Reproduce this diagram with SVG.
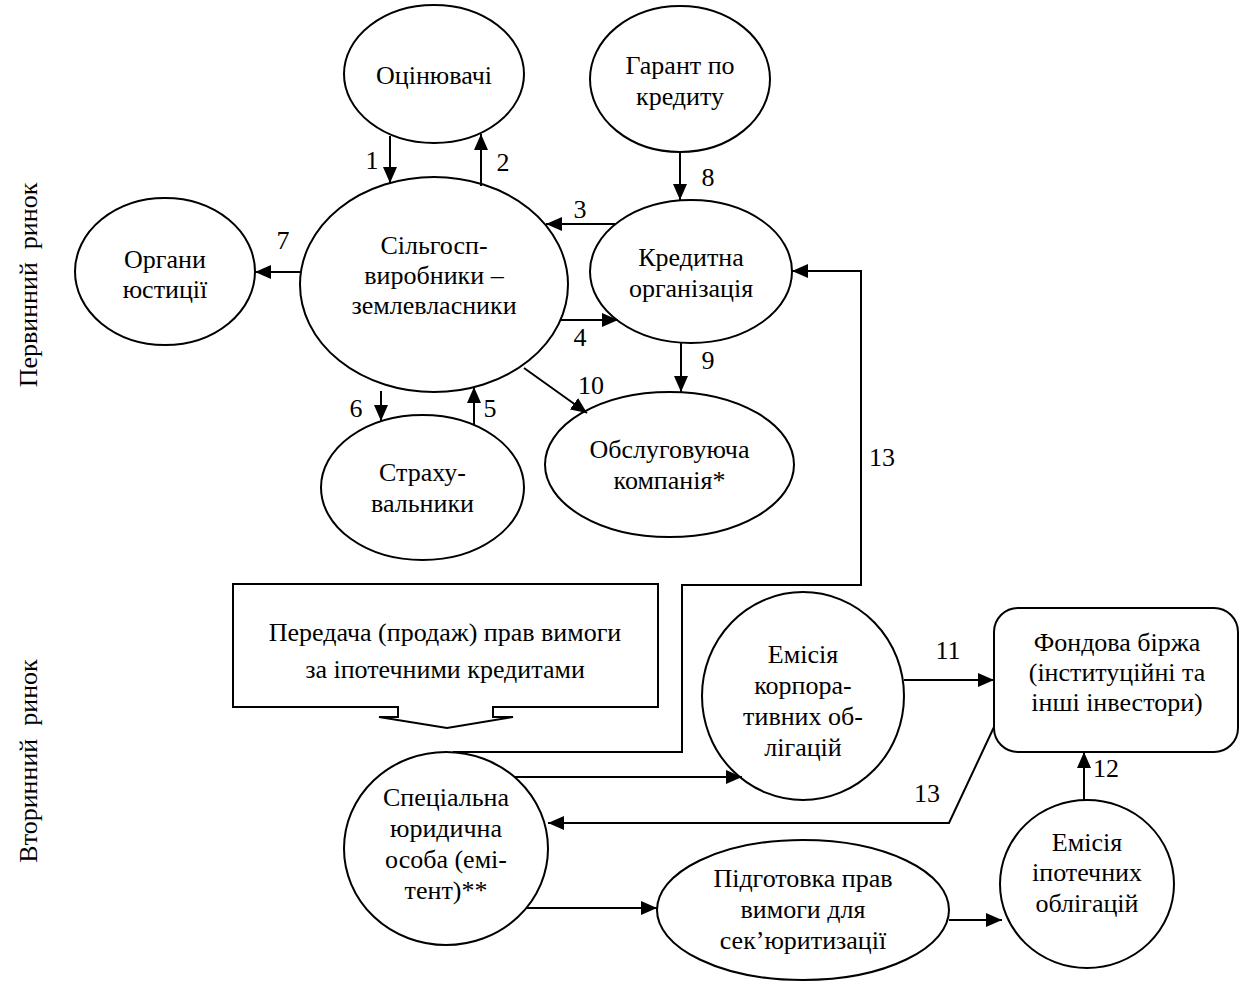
<svg xmlns="http://www.w3.org/2000/svg" width="1241" height="985" viewBox="0 0 1241 985">
<style>
.n{fill:#fff;stroke:#000;stroke-width:2}
text{font-family:"Liberation Serif","Times New Roman",serif;font-size:26px;fill:#000;text-anchor:middle}
.c{fill:none;stroke:#000;stroke-width:2;marker-end:url(#ah)}
.cl{fill:none;stroke:#000;stroke-width:2}
.v{white-space:pre}
</style>
<defs>
<marker id="ah" markerUnits="userSpaceOnUse" markerWidth="16" markerHeight="14" refX="16" refY="7" orient="auto">
<path d="M0,0 L16,7 L0,14 z" fill="#000"/>
</marker>
</defs>
<rect width="1241" height="985" fill="#fff"/>
<g id="labels-side">
<text class="v" transform="translate(37,285) rotate(-90)">Первинний  ринок</text>
<text class="v" transform="translate(37,761) rotate(-90)">Вторинний  ринок</text>
</g>
<g id="ocin"><ellipse class="n" cx="434" cy="74" rx="90" ry="69"/><text x="434" y="84">Оцінювачі</text></g>
<g id="garant"><ellipse class="n" cx="680" cy="79" rx="90" ry="73"/><text x="680" y="74">Гарант по</text><text x="680" y="105">кредиту</text></g>
<g id="silgosp"><ellipse class="n" cx="434" cy="284.5" rx="134" ry="107.5"/><text x="434" y="254">Сільгосп-</text><text x="434" y="284">виробники –</text><text x="434" y="314">землевласники</text></g>
<g id="kredyt"><ellipse class="n" cx="691" cy="271.5" rx="101" ry="71.5"/><text x="691" y="266">Кредитна</text><text x="691" y="297">організація</text></g>
<g id="organy"><ellipse class="n" cx="165" cy="271.5" rx="90" ry="73.5"/><text x="165" y="268">Органи</text><text x="165" y="298">юстиції</text></g>
<g id="strakh"><ellipse class="n" cx="422.5" cy="487.5" rx="101.5" ry="72.5"/><text x="422.5" y="481">Страху-</text><text x="422.5" y="512">вальники</text></g>
<g id="obsl"><ellipse class="n" cx="669.5" cy="464.5" rx="124.5" ry="72.5"/><text x="669.5" y="458">Обслуговуюча</text><text x="669.5" y="489">компанія*</text></g>
<g id="peredacha"><path class="n" d="M233,584 L658,584 L658,707 L493,707 L493,717 L513,717 L447,728 L379,717 L398,717 L398,707 L233,707 Z"/><text x="445" y="641">Передача (продаж) прав вимоги</text><text x="445" y="678">за іпотечними кредитами</text></g>
<g id="emkorp"><ellipse class="n" cx="803" cy="696" rx="101" ry="104"/><text x="803" y="663">Емісія</text><text x="803" y="694">корпора-</text><text x="803" y="725">тивних об-</text><text x="803" y="756">лігацій</text></g>
<g id="fond"><rect class="n" x="994" y="608" width="244" height="144" rx="24"/><text x="1117" y="651">Фондова біржа</text><text x="1117" y="681">(інституційні та</text><text x="1117" y="711">інші інвестори)</text></g>
<g id="spec"><ellipse class="n" cx="446" cy="848.5" rx="102" ry="96.5"/><text x="446" y="806">Спеціальна</text><text x="446" y="837">юридична</text><text x="446" y="868">особа (емі-</text><text x="446" y="899">тент)**</text></g>
<g id="pidg"><ellipse class="n" cx="803" cy="910" rx="146" ry="70"/><text x="803" y="887">Підготовка прав</text><text x="803" y="918">вимоги для</text><text x="803" y="949">сек’юритизації</text></g>
<g id="emipot"><ellipse class="n" cx="1087" cy="884" rx="87" ry="84"/><text x="1087" y="851">Емісія</text><text x="1087" y="881">іпотечних</text><text x="1087" y="912">облігацій</text></g>
<g id="connectors">
<path class="c" d="M390,136 L390,183"/>
<path class="c" d="M481,186 L481,134"/>
<path class="c" d="M680,152 L680,200"/>
<path class="c" d="M615,224 L546,224"/>
<path class="c" d="M560,320 L618,320"/>
<path class="c" d="M300,272 L255,272"/>
<path class="c" d="M681,343 L681,392"/>
<path class="c" d="M524,368 L587,413"/>
<path class="c" d="M381,391 L381,421"/>
<path class="c" d="M474,425 L474,387"/>
<path class="c" d="M453,752 L682,752 L682,585 L861,585 L861,271 L792,271"/>
<path class="c" d="M514,777 L742,777"/>
<path class="c" d="M904,680 L994,680"/>
<path class="c" d="M1084,800 L1084,752"/>
<path class="c" d="M994,727 L949,823 L548,823"/>
<path class="c" d="M526,908 L657,908"/>
<path class="c" d="M949,920 L1002,920"/>
</g>
<g id="numbers">
<text x="372" y="169">1</text>
<text x="503" y="171">2</text>
<text x="708" y="186">8</text>
<text x="580" y="218">3</text>
<text x="580" y="346">4</text>
<text x="283" y="249">7</text>
<text x="708" y="369">9</text>
<text x="591" y="394">10</text>
<text x="490" y="417">5</text>
<text x="356" y="417">6</text>
<text x="882" y="466">13</text>
<text x="948" y="659">11</text>
<text x="1106" y="777">12</text>
<text x="927" y="802">13</text>
</g>
</svg>
